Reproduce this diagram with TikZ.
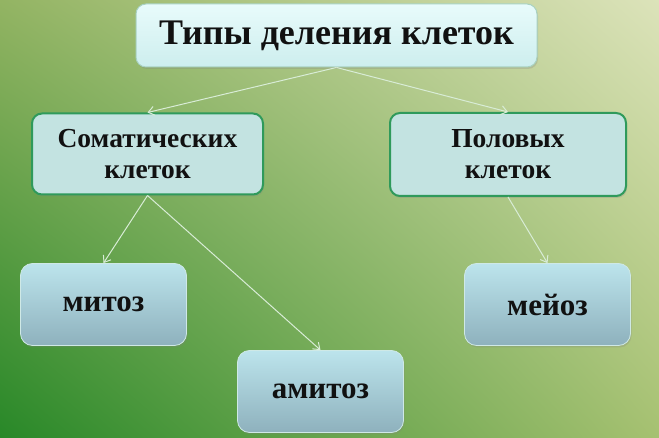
\documentclass[tikz,border=0pt]{standalone}
\usepackage{fontspec}
\setmainfont{Liberation Serif}
\usetikzlibrary{arrows.meta,shadings,shadows}

\definecolor{bgTL}{HTML}{93B463}
\definecolor{bgTR}{HTML}{DCE3BA}
\definecolor{bgBL}{HTML}{288828}
\definecolor{bgBR}{HTML}{A6C171}
\definecolor{edgegreen}{HTML}{2F9A5B}
\definecolor{cellfill}{HTML}{C3E3E1}
\definecolor{toptop}{HTML}{E8FBFB}
\definecolor{topbot}{HTML}{CDEEEE}
\definecolor{topedge}{HTML}{A9D2C2}
\definecolor{leaftop}{HTML}{BCE4EC}
\definecolor{leafbot}{HTML}{8EB1BD}
\definecolor{leafedge}{HTML}{CFE9E6}
\definecolor{arrowcol}{HTML}{D8ECD6}
\definecolor{ink}{HTML}{111111}

\tikzset{
  box/.style={rounded corners=10pt, inner sep=0pt, text=ink,
    font=\bfseries\fontsize{27.5}{31}\selectfont, align=center,
    drop shadow={opacity=0.25, shadow xshift=1pt, shadow yshift=-2pt}},
  topbox/.style={box, top color=toptop, bottom color=topbot, draw=topedge,
    line width=1pt, minimum width=401pt, minimum height=63pt,
    font=\bfseries\fontsize{36}{42}\selectfont},
  midbox/.style={box, fill=cellfill, draw=edgegreen, line width=2pt,
    minimum height=81pt},
  leafbox/.style={box, rounded corners=12pt, top color=leaftop,
    bottom color=leafbot, draw=leafedge, line width=0.8pt,
    minimum width=166pt, minimum height=82pt,
    font=\bfseries\fontsize{31}{36}\selectfont},
  arr/.style={draw=arrowcol, line width=1pt,
    -{Straight Barb[length=6pt,width=9pt]}}
}

\begin{document}
\begin{tikzpicture}[x=1pt,y=1pt]
\useasboundingbox (0,0) rectangle (659,438);
\shade[upper left=bgTL, upper right=bgTR, lower left=bgBL, lower right=bgBR]
    (0,0) rectangle (659,438);

% boxes
\node[topbox] (types) at (336.5,402.5) {Типы деления клеток};
\node[midbox, minimum width=231pt] (soma) at (147.5,284) {Соматических\\клеток};
\node[midbox, minimum width=236pt, minimum height=83pt] (sex) at (508,283.5) {Половых\\клеток};
\node[leafbox] (mitosis) at (103.5,133.5) {митоз};
\node[leafbox] (amitosis) at (320.5,46.5) {амитоз};
\node[leafbox] (meiosis) at (547.5,133.5) {мейоз};

% arrows
\draw[arr] (types.south) -- (soma.north);
\draw[arr] (types.south) -- (sex.north);
\draw[arr] (soma.south) -- (mitosis.north);
\draw[arr] (soma.south) -- (amitosis.north);
\draw[arr] (sex.south) -- (meiosis.north);
\end{tikzpicture}
\end{document}
